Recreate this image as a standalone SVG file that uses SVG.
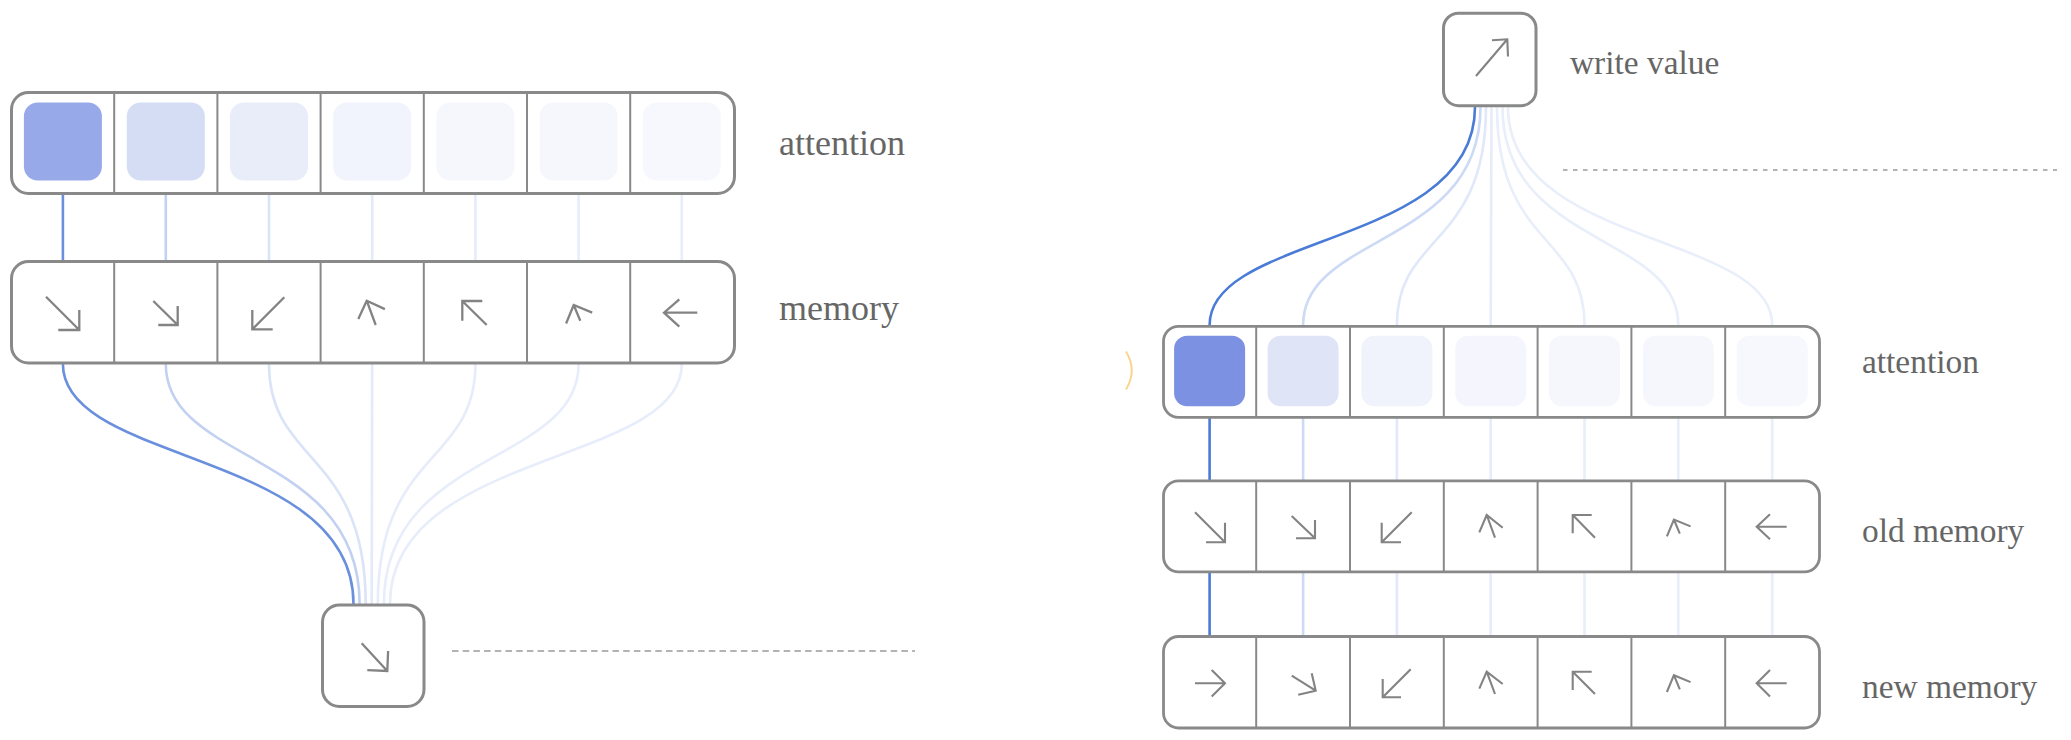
<svg xmlns="http://www.w3.org/2000/svg" width="2071" height="740" viewBox="0 0 2071 740">
<style>
.box{fill:#fff;stroke:#898989;stroke-width:3}
.div{stroke:#898989;stroke-width:2}
.arr{fill:none;stroke:#838383;stroke-width:2.3;stroke-linecap:butt;stroke-linejoin:miter}
.arr2{fill:none;stroke:#838383;stroke-width:2.1}
.lbl{font-family:"Liberation Serif","Times New Roman",serif;font-size:36px;fill:#666}
.lbl2{font-family:"Liberation Serif","Times New Roman",serif;font-size:33.4px;fill:#666}
.con{fill:none;stroke-width:2.6}
.dash{fill:none;stroke:#9a9a9a;stroke-width:1.5}
</style>
<rect width="2071" height="740" fill="#fff"/>

<g id="connectors">
  <!-- left panel: attention -> memory -> read node -->
  <path class="con" stroke="#e7edfa" d="M681.8 194 V364 C681.8 465 390 450 390 604"/>
  <path class="con" stroke="#e7edfa" d="M578.6 194 V364 C578.6 465 383.9 450 383.9 604"/>
  <path class="con" stroke="#e6ecf9" d="M475.4 194 V364 C475.4 465 377.8 450 377.8 604"/>
  <path class="con" stroke="#e3eaf9" d="M372.2 194 V364 C372.2 465 371.7 450 371.7 604"/>
  <path class="con" stroke="#dae3f7" d="M269 194 V364 C269 465 365.7 450 365.7 604"/>
  <path class="con" stroke="#c2d1f2" d="M165.8 194 V364 C165.8 465 359.6 450 359.6 604"/>
  <path class="con" stroke="#6a90dd" stroke-width="3" d="M62.9 194 V364 C62.9 465 353.5 450 353.5 604"/>
  <!-- right panel: write node -> attention -> old memory -> new memory -->
  <path class="con" stroke="#e8eefa" d="M1508 107 C1508 247 1772.2 233 1772.2 325 V636"/>
  <path class="con" stroke="#e8eefa" d="M1502.5 107 C1502.5 247 1678.3 233 1678.3 325 V636"/>
  <path class="con" stroke="#e8eefa" d="M1497 107 C1497 247 1584.5 233 1584.5 325 V636"/>
  <path class="con" stroke="#e6ecf9" d="M1491.5 107 C1491.5 247 1490.7 233 1490.7 325 V636"/>
  <path class="con" stroke="#e0e8f9" d="M1486 107 C1486 247 1396.9 233 1396.9 325 V636"/>
  <path class="con" stroke="#cddaf5" d="M1480.5 107 C1480.5 247 1303.1 233 1303.1 325 V636"/>
  <path class="con" stroke="#4a7bd6" d="M1475 107 C1475 247 1209.6 233 1209.6 325 V636"/>
  <!-- dashed separators -->
  <path class="dash" stroke-dasharray="6.5 4.2" d="M452 651 H915"/>
  <path class="dash" stroke-dasharray="4.5 5.5" d="M1563 170 H2057"/>
</g>

<g id="left-attention">
  <rect class="box" x="11.5" y="92.5" width="723" height="101" rx="17"/>
  <g class="div">
    <line x1="114.2" y1="92.5" x2="114.2" y2="193.5"/>
    <line x1="217.4" y1="92.5" x2="217.4" y2="193.5"/>
    <line x1="320.6" y1="92.5" x2="320.6" y2="193.5"/>
    <line x1="423.8" y1="92.5" x2="423.8" y2="193.5"/>
    <line x1="527" y1="92.5" x2="527" y2="193.5"/>
    <line x1="630.2" y1="92.5" x2="630.2" y2="193.5"/>
  </g>
  <rect x="23.9" y="102.5" width="78" height="78" rx="14" fill="#97a9e8"/>
  <rect x="126.8" y="102.5" width="78" height="78" rx="14" fill="#d5ddf5"/>
  <rect x="230" y="102.5" width="78" height="78" rx="14" fill="#e9edfa"/>
  <rect x="333.2" y="102.5" width="78" height="78" rx="14" fill="#f2f4fd"/>
  <rect x="436.4" y="102.5" width="78" height="78" rx="14" fill="#f6f7fd"/>
  <rect x="539.6" y="102.5" width="78" height="78" rx="14" fill="#f6f7fd"/>
  <rect x="642.8" y="102.5" width="78" height="78" rx="14" fill="#f7f8fd"/>
  <text class="lbl" x="779" y="155">attention</text>
</g>

<g id="left-memory">
  <rect class="box" x="11.5" y="261.5" width="723" height="101.5" rx="17"/>
  <g class="div">
    <line x1="114.2" y1="261.5" x2="114.2" y2="363"/>
    <line x1="217.4" y1="261.5" x2="217.4" y2="363"/>
    <line x1="320.6" y1="261.5" x2="320.6" y2="363"/>
    <line x1="423.8" y1="261.5" x2="423.8" y2="363"/>
    <line x1="527" y1="261.5" x2="527" y2="363"/>
    <line x1="630.2" y1="261.5" x2="630.2" y2="363"/>
  </g>
  <path class="arr" d="M46 296.7 L79.3 330 M58.3 330 H79.3 V310"/>
  <path class="arr" d="M153.3 301 L177.7 325 M158.3 325 H177.7 V306"/>
  <path class="arr" d="M284.3 297.3 L252.3 329.3 M272.7 329.3 H252.3 V310"/>
  <path class="arr" d="M375.7 325 L366.7 300.7 M358.3 318.9 L366.7 300.7 L384.9 309.1"/>
  <path class="arr" d="M486.7 325 L462.3 301 M482.3 301 H462.3 V320.7"/>
  <path class="arr" d="M580.3 320.7 L573.7 305 M566.1 323.5 L573.7 305 L592.2 312.6"/>
  <path class="arr" d="M697.3 312.7 H664 M679.3 299.3 L664 312.7 L679.3 326.7"/>
  <text class="lbl" x="779" y="320">memory</text>
</g>

<g id="left-read-value">
  <rect class="box" x="322.5" y="605" width="101.5" height="101.5" rx="17"/>
  <path class="arr" d="M361.7 643.3 L387.3 671 M367.3 670.2 L387.3 671 L388.1 651"/>
</g>

<g id="right-write-value">
  <rect class="box" x="1443.5" y="13.2" width="92.5" height="92.5" rx="15"/>
  <path class="arr2" d="M1476 76 L1507.3 39.3 M1492 40.3 L1507.3 39.3 L1508 56.5"/>
  <text class="lbl2" x="1570" y="73.5">write value</text>
</g>

<g id="right-attention">
  <path d="M1126 351.5 Q1137.5 370.5 1126 389.5" fill="none" stroke="#f8d68f" stroke-width="2"/>
  <rect class="box" x="1163.5" y="326.3" width="656" height="91" rx="15" style="stroke-width:2.8"/>
  <g class="div">
    <line x1="1256.2" y1="326.3" x2="1256.2" y2="417.3"/>
    <line x1="1350" y1="326.3" x2="1350" y2="417.3"/>
    <line x1="1443.8" y1="326.3" x2="1443.8" y2="417.3"/>
    <line x1="1537.6" y1="326.3" x2="1537.6" y2="417.3"/>
    <line x1="1631.4" y1="326.3" x2="1631.4" y2="417.3"/>
    <line x1="1725.2" y1="326.3" x2="1725.2" y2="417.3"/>
  </g>
  <rect x="1174.1" y="335.7" width="71" height="70.5" rx="13" fill="#7d91e2"/>
  <rect x="1267.6" y="335.7" width="71" height="70.5" rx="13" fill="#dfe4f7"/>
  <rect x="1361.4" y="335.7" width="71" height="70.5" rx="13" fill="#f0f3fc"/>
  <rect x="1455.2" y="335.7" width="71" height="70.5" rx="13" fill="#f5f6fd"/>
  <rect x="1549" y="335.7" width="71" height="70.5" rx="13" fill="#f6f7fd"/>
  <rect x="1642.8" y="335.7" width="71" height="70.5" rx="13" fill="#f6f7fd"/>
  <rect x="1736.7" y="335.7" width="71" height="70.5" rx="13" fill="#f7f8fd"/>
  <text class="lbl2" x="1862" y="372.7">attention</text>
</g>

<g id="right-old-memory">
  <rect class="box" x="1163.5" y="480.8" width="656" height="91" rx="15" style="stroke-width:2.8"/>
  <g class="div">
    <line x1="1256.2" y1="480.8" x2="1256.2" y2="571.8"/>
    <line x1="1350" y1="480.8" x2="1350" y2="571.8"/>
    <line x1="1443.8" y1="480.8" x2="1443.8" y2="571.8"/>
    <line x1="1537.6" y1="480.8" x2="1537.6" y2="571.8"/>
    <line x1="1631.4" y1="480.8" x2="1631.4" y2="571.8"/>
    <line x1="1725.2" y1="480.8" x2="1725.2" y2="571.8"/>
  </g>
  <path class="arr2" d="M1195 512.3 L1225 542.3 M1206 542.3 H1225 V522.7"/>
  <path class="arr2" d="M1291.7 516 L1315 538.3 M1296 538.3 H1315 V520"/>
  <path class="arr2" d="M1411.7 512.3 L1381.7 542.3 M1401 542.3 H1381.7 V522.7"/>
  <path class="arr2" d="M1495 537.7 L1486.7 515 M1479.3 532.3 L1486.7 515 L1502.7 527.7"/>
  <path class="arr2" d="M1595 537.7 L1572.7 515 M1591.7 515 H1572.7 V533.3"/>
  <path class="arr2" d="M1679.8 533.7 L1673.9 519.5 M1666.9 536.3 L1673.9 519.5 L1690.6 526.4"/>
  <path class="arr2" d="M1786.7 526.7 H1756.7 M1770 514.3 L1756.7 526.7 L1770 539.3"/>
  <text class="lbl2" x="1862" y="541.7">old memory</text>
</g>

<g id="right-new-memory">
  <rect class="box" x="1163.5" y="636.5" width="656" height="91.5" rx="15" style="stroke-width:2.8"/>
  <g class="div">
    <line x1="1256.2" y1="636.5" x2="1256.2" y2="728"/>
    <line x1="1350" y1="636.5" x2="1350" y2="728"/>
    <line x1="1443.8" y1="636.5" x2="1443.8" y2="728"/>
    <line x1="1537.6" y1="636.5" x2="1537.6" y2="728"/>
    <line x1="1631.4" y1="636.5" x2="1631.4" y2="728"/>
    <line x1="1725.2" y1="636.5" x2="1725.2" y2="728"/>
  </g>
  <path class="arr2" d="M1195 683.3 H1225 M1211.7 670 L1225 683.3 L1211.7 696.6"/>
  <path class="arr2" d="M1291.7 675.7 L1315.7 690.7 M1298.2 694.7 L1315.7 690.7 L1311.7 673.2"/>
  <path class="arr2" d="M1410.7 669.3 L1382.7 697.3 M1401 697.3 H1382.7 V679"/>
  <path class="arr2" d="M1495 694 L1486.7 671.7 M1479.3 688.6 L1486.7 671.7 L1502.7 684"/>
  <path class="arr2" d="M1595 694 L1572.7 671.7 M1591.7 671.7 H1572.7 V690"/>
  <path class="arr2" d="M1679.8 689.4 L1673.9 675.2 M1666.9 692 L1673.9 675.2 L1690.6 682.1"/>
  <path class="arr2" d="M1786.7 683.3 H1756.7 M1770 670 L1756.7 683.3 L1770 696.6"/>
  <text class="lbl2" x="1862" y="698.3">new memory</text>
</g>
</svg>
